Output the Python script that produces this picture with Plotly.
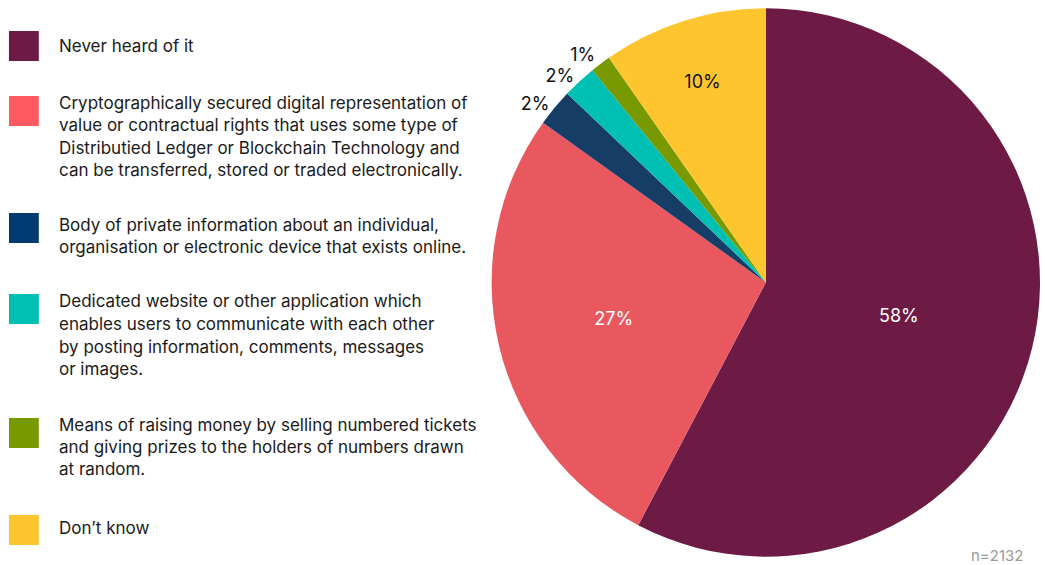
import plotly.graph_objects as go

categories = [
    "Never heard of it",
    "Cryptographically secured digital representation of value or contractual rights that uses some type of Distributied Ledger or Blockchain Technology and can be transferred, stored or traded electronically.",
    "Body of private information about an individual, organisation or electronic device that exists online.",
    "Dedicated website or other application which enables users to communicate with each other by posting information, comments, messages or images.",
    "Means of raising money by selling numbered tickets and giving prizes to the holders of numbers drawn at random.",
    "Don\u2019t know",
]
values = [57.7, 27.2, 2.2, 2.0, 1.2, 9.7]
legend_lines = [
    ["Never heard of it"],
    ["Cryptographically secured digital representation of",
     "value or contractual rights that uses some type of",
     "Distributied Ledger or Blockchain Technology and",
     "can be transferred, stored or traded electronically."],
    ["Body of private information about an individual,",
     "organisation or electronic device that exists online."],
    ["Dedicated website or other application which",
     "enables users to communicate with each other",
     "by posting information, comments, messages",
     "or images."],
    ["Means of raising money by selling numbered tickets",
     "and giving prizes to the holders of numbers drawn",
     "at random."],
    ["Don\u2019t know"],
]
slice_colors = ["#6D1A45", "#E9585F", "#163D66", "#00BFB3", "#789A00", "#FFC52E"]
legend_colors = ["#6D1A45", "#FF5A5F", "#003A70", "#00BFB3", "#789A00", "#FFC52E"]
text_pos = ["inside", "inside", "outside", "outside", "outside", "inside"]
text_colors = ["white", "white", "#111111", "#111111", "#111111", "#111111"]
sample_note = "n=2132"

W, H = 1045, 565
FONT = "Inter"

fig = go.Figure(go.Pie(
    labels=categories,
    values=values,
    sort=False,
    direction="clockwise",
    rotation=0,
    marker=dict(colors=slice_colors, line=dict(width=0)),
    texttemplate="%{value:.0f}%",
    textposition=text_pos,
    insidetextorientation="horizontal",
    textfont=dict(family=FONT, size=18, color=text_colors),
    outsidetextfont=dict(family=FONT, size=18, color="#111111"),
    hoverinfo="label+percent",
    domain=dict(x=[494 / W, 1.0], y=[1 - 558 / H, 1 - 7 / H]),
    showlegend=False,
))

# manual legend (square swatches + wrapped text)
sq_tops = [31, 96, 213, 294, 418, 515]
line_centers = [
    [46],
    [103, 125, 148, 170],
    [225, 247],
    [301, 324, 347, 369],
    [425, 447, 469],
    [528],
]
shapes = []
annotations = []
for i in range(len(categories)):
    t = sq_tops[i]
    shapes.append(dict(type="rect", xref="paper", yref="paper",
                       x0=9 / W, x1=39 / W, y0=1 - (t + 30) / H, y1=1 - t / H,
                       fillcolor=legend_colors[i], line=dict(width=0)))
    for line, yc in zip(legend_lines[i], line_centers[i]):
        annotations.append(dict(text=line, xref="paper", yref="paper",
                                x=57 / W, y=1 - yc / H, xanchor="left", yanchor="middle",
                                showarrow=False, font=dict(family=FONT, size=17, color="#1a1a1a")))

annotations.append(dict(text=sample_note, xref="paper", yref="paper",
                        x=1030 / W, y=1 - 555 / H, xanchor="right", yanchor="middle",
                        showarrow=False, font=dict(family=FONT, size=15, color="#9a9a9a")))

fig.update_layout(
    width=W, height=H,
    margin=dict(l=0, r=0, t=0, b=0),
    paper_bgcolor="white",
    plot_bgcolor="white",
    shapes=shapes,
    annotations=annotations,
)

post = (
    "document.body.style.margin='0';"
    "var s=document.createElement('style');"
    "s.textContent='path.textline{display:none}';"
    "document.head.appendChild(s);"
)
fig.write_html("out.html", post_script=post, config={"displayModeBar": False})
